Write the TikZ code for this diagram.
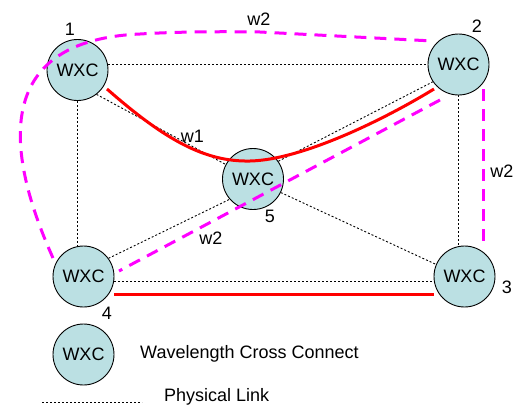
\documentclass[tikz,border=0pt]{standalone}
\usepackage{fontspec}
\setmainfont{Liberation Sans}
\usetikzlibrary{calc}
\definecolor{wxcfill}{RGB}{187,224,227}
\definecolor{mag}{RGB}{255,0,255}
\definecolor{lpred}{RGB}{255,0,0}
\begin{document}
\begin{tikzpicture}[x=1pt,y=-1pt,
  font=\fontsize{18}{20}\selectfont,
  wxc/.style={circle,draw=black,line width=0.9pt,fill=wxcfill,minimum size=61pt,inner sep=0pt},
  phys/.style={line width=0.9pt,dash pattern=on 2pt off 2pt},
  lp/.style={draw=lpred,line width=3pt},
  lw/.style={draw=mag,line width=3pt,dash pattern=on 12pt off 8pt},
  lbl/.style={anchor=base,inner sep=0pt}]
\useasboundingbox (0,0) rectangle (515,405);
% node positions (drawn after the physical links)
\coordinate (p1) at (77.5,70);
\coordinate (p2) at (458.5,64.5);
\coordinate (p5) at (253,179);
\coordinate (p4) at (83.5,276.5);
\coordinate (p3) at (464.5,276.5);
\node[wxc,draw=none,fill=none] (n1) at (p1) {\phantom{WXC}};
\node[wxc,draw=none,fill=none] (n2) at (p2) {\phantom{WXC}};
\node[wxc,draw=none,fill=none] (n5) at (p5) {\phantom{WXC}};
\node[wxc,draw=none,fill=none] (n4) at (p4) {\phantom{WXC}};
\node[wxc,draw=none,fill=none] (n3) at (p3) {\phantom{WXC}};
% physical links
\draw[phys] (n1.east |- n2) -- (n2.west);
\draw[phys] (n1.south) -- (n1.south |- n4.north);
\draw[phys] (n2.south) -- (n2.south |- n3.north);
\draw[phys] ($(n4.east)+(0,5)$) -- ($(n3.west)+(0,5)$);
\draw[phys] (n1.-52) -- (n5.152);
\draw[phys] (n5.35) -- (n2.214);
\draw[phys] (n4.36) -- (n5.221);
\draw[phys] (n5.-26) -- (n3.157);
% WXC nodes
\node[wxc] (w1) at (n1) {WXC};
\node[wxc] (w2) at (n2) {WXC};
\node[wxc] (w5) at (n5) {WXC};
\node[wxc] (w4) at (n4) {WXC};
\node[wxc] (w3) at (n3) {WXC};
\node[wxc] (nl) at (83.5,354.5) {WXC};
% lightpaths
\coordinate (r1) at ($(n1)+(29.5,19)$);
\coordinate (r2) at ($(n2)+(-24.5,24.5)$);
\draw[lp] (r1) .. controls (165,140) and (205,162) .. (250,161)
  .. controls (300,160) and (380,122) .. (r2);
\draw[lp] ($(n4.east)+(0,17.5)$) -- ($(n3.west)+(0,17.5)$);
\coordinate (m4) at ($(n4)+(-30.5,-18.5)$);
\coordinate (m2) at ($(n2)+(-25.5,-23.5)$);
\draw[lw] (m4) .. controls (0,140) and (0,40) .. (140,34)
  .. controls (180,31.5) and (225,31.5) .. (260,32) -- (m2);
\draw[lw] ($(n2)+(24.5,24.5)$) -- ($(n3)+(18.5,-30.5)$);
\draw[lw] ($(n2)+(-18.5,35.5)$) -- ($(n4)+(35.5,-5.5)$);
% labels
\node[lbl] (t1) at (70,35) {1};
\node[lbl] (t2) at (477,32) {2};
\node[lbl] (t3) at (507,293) {3};
\node[lbl] (t4) at (107,319) {4};
\node[lbl] (t5) at (270,222.5) {5};
\node[lbl] (tw1) at (192.5,142) {w1};
\node[lbl] (tw2a) at (259,25) {w2};
\node[lbl] (tw2b) at (502,177) {w2};
\node[lbl] (tw2c) at (211,244) {w2};
% legend
\node[anchor=base west,inner sep=0pt] (lt1) at (140,358) {Wavelength Cross Connect};
\node[anchor=base west,inner sep=0pt] (lt2) at (164,401) {Physical Link};
\coordinate (la) at (42,402.7);
\coordinate (lb) at (142,402.7);
\draw[phys] (la) -- (lb);
\end{tikzpicture}
\end{document}
